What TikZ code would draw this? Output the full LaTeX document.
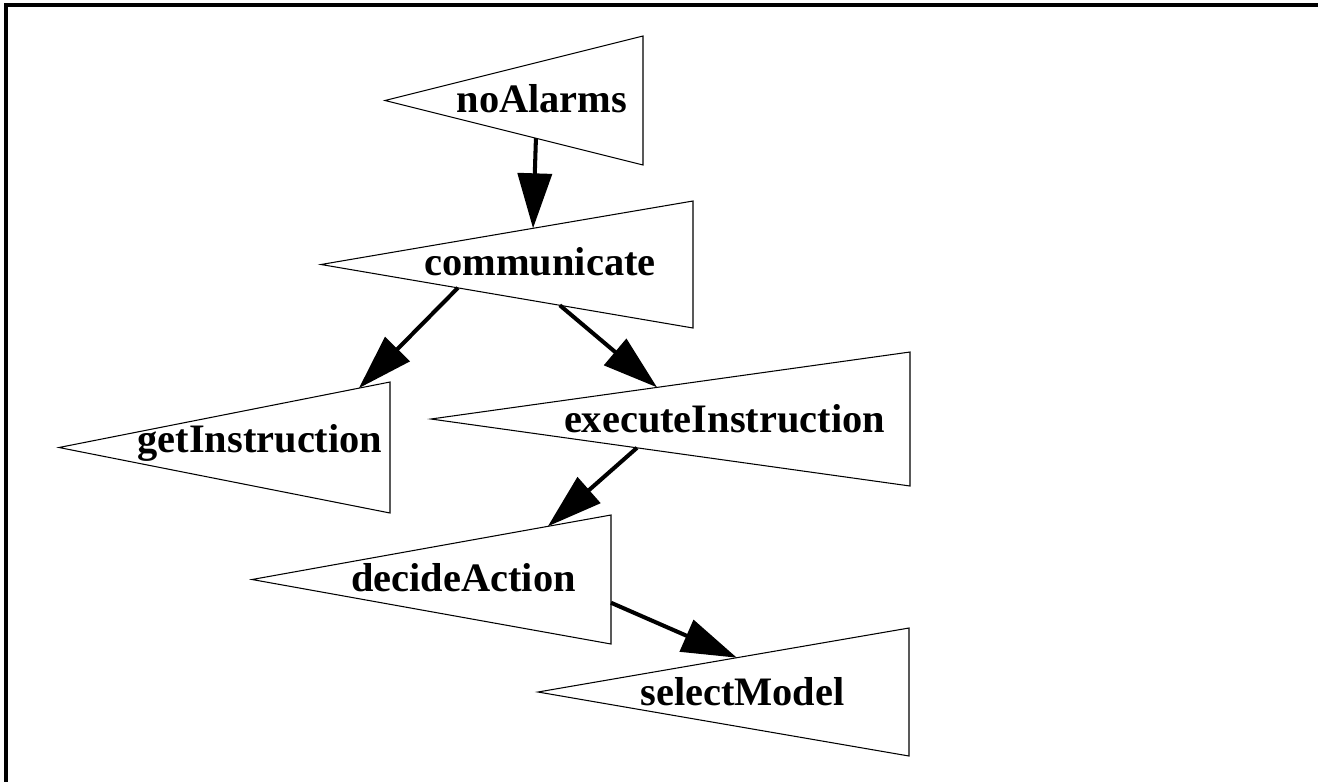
\documentclass[tikz,border=0pt]{standalone}
\usepackage{fontspec}
\setmainfont{Liberation Serif}
\usetikzlibrary{arrows.meta, calc}

\begin{document}
\begin{tikzpicture}[x=0.02cm, y=-0.02cm,
    font=\fontsize{23}{28}\selectfont\bfseries,
    tribox/.style 2 args={draw=none, inner sep=0pt, outer sep=0pt,
      minimum width=#1*0.02cm, minimum height=#2*0.02cm},
    trishape/.style={draw=black, line width=0.6pt, line join=miter},
    lbl/.style={anchor=base, inner sep=0pt},
    flow/.style={-{Triangle[length=1.1cm, width=0.68cm]}, line width=2.3pt},
    frameline/.style={line width=2.2pt}]

  \useasboundingbox (0,0) rectangle (1318,782);

  % --- marco ---
  \coordinate (frameTL) at (6,5);
  \coordinate (frameTR) at (1318,5);
  \coordinate (frameBL) at (6,782);
  \draw[frameline] (frameTR) -- (frameTL) -- (frameBL);

  % --- cajas de los triangulos ---
  \node[tribox={258}{129}] (noalarms)    at (514,100.5) {};
  \node[tribox={372}{127}] (communicate) at (507,264.5) {};
  \node[tribox={331}{131}] (getinstr)    at (224.5,447.5) {};
  \node[tribox={479}{134}] (execinstr)   at (670.5,419) {};
  \node[tribox={359}{129}] (decide)      at (431.5,579.5) {};
  \node[tribox={371}{128}] (select)      at (723.5,692) {};

  \foreach \n in {noalarms, communicate, getinstr, execinstr, decide, select}
    \draw[trishape] (\n.west) -- (\n.north east) -- (\n.south east) -- cycle;

  % --- etiquetas ---
  \node[lbl] (noalarmsL)    at (542,112.5) {noAlarms};
  \node[lbl] (communicateL) at (540,275) {communicate};
  \node[lbl] (getinstrL)    at (260,452) {getInstruction};
  \node[lbl] (execinstrL)   at (724.5,432) {executeInstruction};
  \node[lbl] (decideL)      at (463.5,591) {decideAction};
  \node[lbl] (selectL)      at (742.5,705) {selectModel};

  % --- flechas ---
  \draw[flow] ($(noalarms.west)!.585!(noalarms.south east)$) --
              ($(communicate.west)!.57!(communicate.north east)$);
  \draw[flow] ($(communicate.west)!.368!(communicate.south east)$) --
              ($(getinstr.west)!.906!(getinstr.north east)$);
  \draw[flow] ($(communicate.west)!.642!(communicate.south east)$) --
              ($(execinstr.west)!.472!(execinstr.north east)$);
  \draw[flow] ($(execinstr.west)!.43!(execinstr.south east)$) --
              ($(decide.west)!.824!(decide.north east)$);
  \draw[flow] ($(decide.north east)!.68!(decide.south east)$) --
              ($(select.west)!.536!(select.north east)$);
\end{tikzpicture}
\end{document}
